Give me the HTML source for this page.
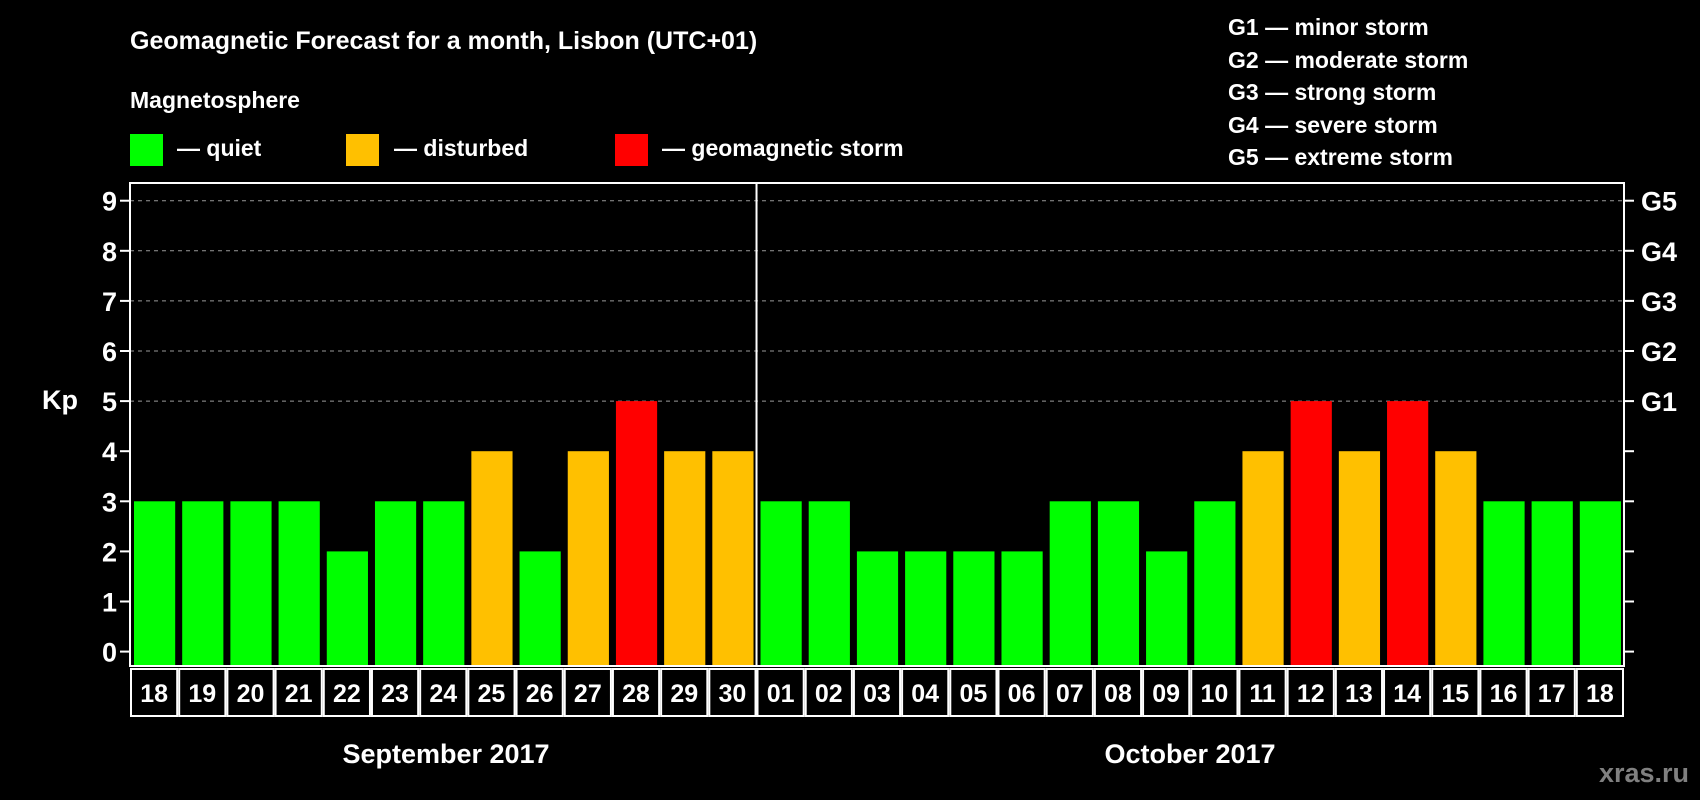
<!DOCTYPE html>
<html><head><meta charset="utf-8"><style>
html,body{margin:0;padding:0;background:#000;}
svg{display:block;font-family:"Liberation Sans",Arial,sans-serif;font-weight:bold;}
</style></head><body>
<svg id="chart" width="1700" height="800" viewBox="0 0 1700 800">
<text x="130" y="49" fill="#fff" font-size="25">Geomagnetic Forecast for a month, Lisbon (UTC+01)</text>
<text x="130" y="108" fill="#fff" font-size="23">Magnetosphere</text>
<rect x="130" y="134" width="33" height="32" fill="#00ff00"/>
<text x="177" y="156" fill="#fff" font-size="23">— quiet</text>
<rect x="346" y="134" width="33" height="32" fill="#ffc000"/>
<text x="394" y="156" fill="#fff" font-size="23">— disturbed</text>
<rect x="615" y="134" width="33" height="32" fill="#ff0000"/>
<text x="662" y="156" fill="#fff" font-size="23">— geomagnetic storm</text>
<g fill="#fff" font-size="23">
<text x="1228" y="35">G1 — minor storm</text>
<text x="1228" y="68">G2 — moderate storm</text>
<text x="1228" y="100">G3 — strong storm</text>
<text x="1228" y="133">G4 — severe storm</text>
<text x="1228" y="165">G5 — extreme storm</text>
</g>
<text x="42" y="409" fill="#fff" font-size="27">Kp</text>
<text x="446" y="763" fill="#fff" font-size="27" text-anchor="middle">September 2017</text>
<text x="1190" y="763" fill="#fff" font-size="27" text-anchor="middle">October 2017</text>
<text x="1689" y="782" fill="#808080" font-size="27" text-anchor="end">xras.ru</text>
<g id="plot"></g>
</svg>
<script>
const days = ["18","19","20","21","22","23","24","25","26","27","28","29","30","01","02","03","04","05","06","07","08","09","10","11","12","13","14","15","16","17","18"];
const kpValues = [3,3,3,3,2,3,3,4,2,4,5,4,4,3,3,2,2,2,2,3,3,2,3,4,5,4,5,4,3,3,3];
const yTicks = [0,1,2,3,4,5,6,7,8,9];
const gLabels = ["G1","G2","G3","G4","G5"];
const gLevels = [5,6,7,8,9];
const NS="http://www.w3.org/2000/svg";
const L=130,R=1624,T=183,B=666;
const slot=(R-L)/days.length;
const y=v=>651.6-v*50.1;
const x=i=>L+i*slot;
const g=document.getElementById('plot');
function mk(t,a){const e=document.createElementNS(NS,t);for(const k in a)e.setAttribute(k,a[k]);g.appendChild(e);return e;}
function color(v){return v>=5?"#ff0000":v>=4?"#ffc000":"#00ff00";}
yTicks.forEach(v=>{
  if(v>=5){const e=mk('line',{x1:L,x2:R,y1:y(v),y2:y(v),stroke:"#999","stroke-dasharray":"4,4","stroke-width":1});
  
  }
  const t1=mk('line',{x1:L-10,x2:L,y1:y(v),y2:y(v),stroke:"#fff","stroke-width":2});
  
  
  const t2=mk('line',{x1:R,x2:R+10,y1:y(v),y2:y(v),stroke:"#fff","stroke-width":2});
  
  
  const tx=mk('text',{x:117,y:y(v)+10,fill:"#fff","font-size":27,"text-anchor":"end"});
  tx.textContent=v;
  
  
});
gLabels.forEach((lab,i)=>{
  const tx=mk('text',{x:1641,y:y(gLevels[i])+10,fill:"#fff","font-size":27});
  tx.textContent=lab;
  
  
});
kpValues.forEach((v,i)=>{
  const r=mk('rect',{x:x(i)+4,y:y(v),width:slot-7,height:B-1-y(v),fill:color(v)});
  
  
  const c=mk('rect',{x:x(i)+1,y:B+3,width:slot-2,height:47,fill:"none",stroke:"#fff","stroke-width":2});
  
  
  const t=mk('text',{x:x(i)+slot/2,y:B+36,fill:"#fff","font-size":25,"text-anchor":"middle"});
  t.textContent=days[i];
  
  
});
const fr=mk('rect',{x:L,y:T,width:R-L,height:B-T,fill:"none",stroke:"#fff","stroke-width":2});


const mi=days.indexOf("01");
const dv=mk('line',{x1:x(mi),x2:x(mi),y1:T,y2:B,stroke:"#fff","stroke-width":2});


</script>
</body></html>
